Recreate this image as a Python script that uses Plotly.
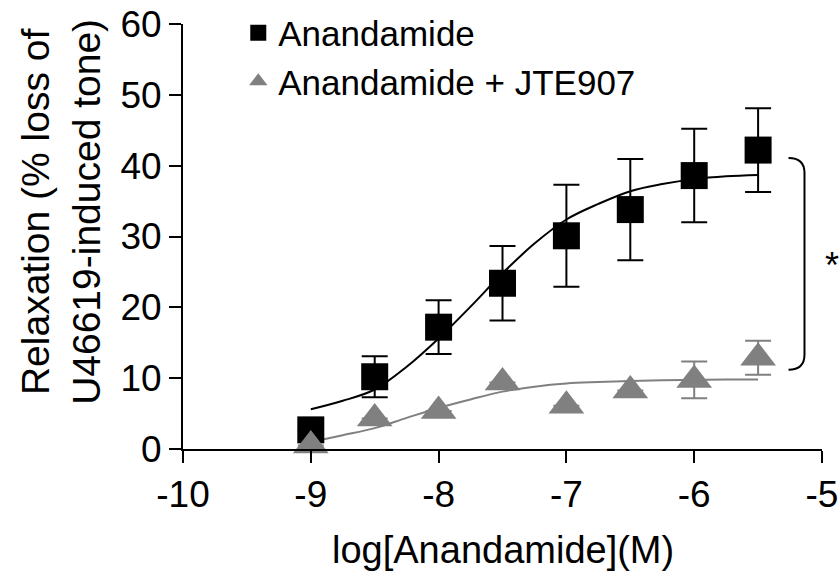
import plotly.graph_objects as go

# ---- data ----
log_conc = [-9, -8.5, -8, -7.5, -7, -6.5, -6, -5.5]

ana_mean = [2.7, 10.2, 17.2, 23.4, 30.1, 33.8, 38.6, 42.2]
ana_sem = [None, 2.9, 3.8, 5.25, 7.2, 7.15, 6.6, 5.9]

jte_mean = [0.5, 4.3, 5.35, 9.4, 6.1, 8.25, 9.75, 12.9]
jte_sem = [None, None, None, None, None, None, 2.6, 2.4]

# fitted curves
fit_x = [-9, -8.75, -8.5, -8.25, -8, -7.75, -7.5, -7.25, -7, -6.75, -6.5, -6.25, -6, -5.75, -5.5]
ana_fit = [5.6, 6.8, 8.4, 11.6, 15.6, 20.1, 24.8, 29.0, 32.4, 34.6, 36.4, 37.4, 38.1, 38.5, 38.7]
jte_fit = [1.0, 1.95, 2.95, 4.4, 5.8, 7.0, 8.1, 8.8, 9.25, 9.45, 9.6, 9.7, 9.75, 9.8, 9.8]

series_names = ["Anandamide", "Anandamide + JTE907"]
x_ticks = [-10, -9, -8, -7, -6, -5]
x_ticktext = ["-10", "-9", "-8", "-7", "-6", "-5"]
y_ticks = [0, 10, 20, 30, 40, 50, 60]

BLACK = "#000000"
GREY = "#808080"
FONT = "Liberation Sans, Arial, sans-serif"

fig = go.Figure()

fig.add_trace(go.Scatter(x=fit_x, y=jte_fit, mode="lines", line=dict(color=GREY, width=2, shape="spline"),
                         showlegend=False, hoverinfo="skip"))
fig.add_trace(go.Scatter(x=fit_x, y=ana_fit, mode="lines", line=dict(color=BLACK, width=2, shape="spline"),
                         showlegend=False, hoverinfo="skip"))

fig.add_trace(go.Scatter(
    x=log_conc, y=ana_mean, mode="markers", name=series_names[0],
    marker=dict(symbol="square", size=27, color=BLACK),
    error_y=dict(type="data", array=ana_sem, visible=True, color=BLACK, thickness=2, width=13),
    cliponaxis=False,
))
fig.add_trace(go.Scatter(
    x=log_conc, y=jte_mean, mode="markers", name=series_names[1],
    marker=dict(symbol="triangle-up", size=31, color=GREY),
    error_y=dict(type="data", array=jte_sem, visible=True, color=GREY, thickness=2, width=13),
    cliponaxis=False,
))

# significance bracket
fig.add_shape(type="path",
              path="M -5.262,41.1 Q -5.137,41.1 -5.137,39.0 L -5.137,13.3 Q -5.137,11.2 -5.262,11.2",
              xref="x", yref="y", line=dict(color=BLACK, width=2))

fig.add_annotation(text="*", xref="paper", yref="paper", x=1.015, y=0.432,
                   xanchor="center", yanchor="middle", showarrow=False,
                   font=dict(family=FONT, size=36, color=BLACK))

# axis titles
fig.add_annotation(text="Relaxation (% loss of<br>U46619-induced tone)", xref="paper", yref="paper",
                   x=-0.19, y=0.557, xanchor="center", yanchor="middle", textangle=-90,
                   showarrow=False, font=dict(family=FONT, size=39, color=BLACK))
fig.add_annotation(text="log[Anandamide](M)", xref="paper", yref="paper",
                   x=0.5, y=-0.292, xanchor="center", yanchor="bottom",
                   showarrow=False, font=dict(family=FONT, size=38, color=BLACK))

fig.update_layout(
    width=839, height=575,
    margin=dict(l=183, r=17, t=24, b=126, autoexpand=False),
    paper_bgcolor="white", plot_bgcolor="white",
    font=dict(family=FONT, color=BLACK),
    showlegend=True,
    legend=dict(xref="container", yref="container", x=0.284, y=0.994,
                xanchor="left", yanchor="top",
                font=dict(family=FONT, size=35, color=BLACK),
                bgcolor="rgba(0,0,0,0)", tracegroupgap=0, itemsizing="trace"),
    xaxis=dict(range=[-10, -5], tickvals=x_ticks, ticktext=x_ticktext,
               showline=True, linecolor=BLACK, linewidth=2,
               ticks="outside", ticklen=12, tickwidth=2, tickcolor=BLACK,
               showgrid=False, zeroline=False, automargin=False,
               tickfont=dict(family=FONT, size=37, color=BLACK)),
    yaxis=dict(range=[0, 60], tickvals=y_ticks,
               showline=True, linecolor=BLACK, linewidth=2,
               ticks="outside", ticklen=12, tickwidth=2, tickcolor=BLACK,
               showgrid=False, zeroline=False, automargin=False,
               tickfont=dict(family=FONT, size=37, color=BLACK)),
)

fig.write_html("out.html")
